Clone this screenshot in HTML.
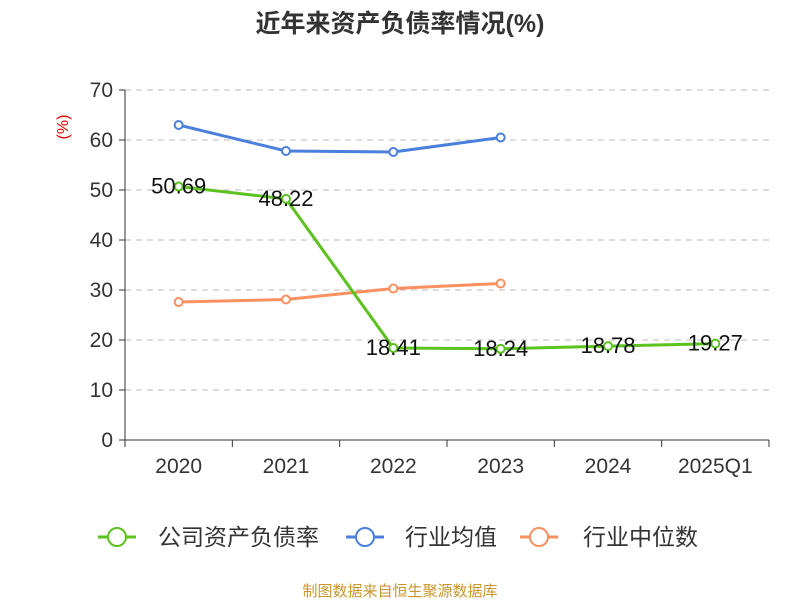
<!DOCTYPE html>
<html><head><meta charset="utf-8"><style>
body{margin:0;background:#fff;font-family:"Liberation Sans","Noto Sans CJK SC",sans-serif;}
</style></head><body>
<svg width="800" height="600" font-family="Liberation Sans, Noto Sans CJK SC, sans-serif">
<text x="400" y="32" text-anchor="middle" font-size="25" font-weight="bold" fill="#333">近年来资产负债率情况(%)</text>
<text transform="translate(68,127) rotate(-90)" text-anchor="middle" font-size="16" fill="#e00000">(%)</text>
<g id="grid"></g><g id="axes"></g><g id="series"></g>
<g>
<g><line x1="98" y1="537" x2="136" y2="537" stroke="#5bc21e" stroke-width="3"/><circle cx="117" cy="537" r="9" fill="#fff" stroke="#5bc21e" stroke-width="2"/><text x="158" y="545" font-size="23" fill="#333">公司资产负债率</text></g>
<g><line x1="346" y1="537" x2="384" y2="537" stroke="#4a7fde" stroke-width="3"/><circle cx="365" cy="537" r="9" fill="#fff" stroke="#4a7fde" stroke-width="2"/><text x="405" y="545" font-size="23" fill="#333">行业均值</text></g>
<g><line x1="520" y1="537" x2="558" y2="537" stroke="#fa9060" stroke-width="3"/><circle cx="539" cy="537" r="9" fill="#fff" stroke="#fa9060" stroke-width="2"/><text x="583" y="545" font-size="23" fill="#333">行业中位数</text></g>
</g>
<text x="400" y="596" text-anchor="middle" font-size="15" fill="#c8962a">制图数据来自恒生聚源数据库</text>
</svg>
<script>
const categories=["2020","2021","2022","2023","2024","2025Q1"];
const companyValues=[50.69,48.22,18.41,18.24,18.78,19.27];
const avgValues=[63.0,57.8,57.6,60.5];
const medianValues=[27.6,28.1,30.3,31.3];
const yTicks=[0,10,20,30,40,50,60,70];
const NS="http://www.w3.org/2000/svg";
const L=125,R=769,T=90,B=440,yMax=70;
const bw=(R-L)/categories.length;
const xS=i=>L+bw*(i+0.5);
const yS=v=>B-(v/yMax)*(B-T);
function mk(tag,attrs,parent){const e=document.createElementNS(NS,tag);for(const k in attrs)e.setAttribute(k,attrs[k]);parent.appendChild(e);return e;}
const grid=document.getElementById('grid'),axes=document.getElementById('axes'),ser=document.getElementById('series');
yTicks.forEach(t=>{
 const y=yS(t);
 if(t>0){const g=mk('line',{x1:L,x2:R,y1:y,y2:y,stroke:'#bbb','stroke-dasharray':'6,5'},grid);
 
 }
 mk('line',{x1:L-6,x2:L,y1:y,y2:y,stroke:'#333'},axes);
 const tx=mk('text',{x:L-12,y:y+7,'text-anchor':'end','font-size':21,fill:'#333'},axes);tx.textContent=t;
 
 
});
mk('line',{x1:L,x2:L,y1:T,y2:B,stroke:'#333'},axes);
mk('line',{x1:L,x2:R,y1:B,y2:B,stroke:'#333'},axes);
for(let i=0;i<=categories.length;i++)mk('line',{x1:L+bw*i,x2:L+bw*i,y1:B,y2:B+7,stroke:'#333'},axes);
categories.forEach((c,i)=>{const tx=mk('text',{x:xS(i),y:B+33,'text-anchor':'middle','font-size':21,fill:'#333'},axes);tx.textContent=c;
 
 });
function series(vals,color,name,labels){
 const g=mk('g',{},ser);
 
 
 mk('polyline',{points:vals.map((v,i)=>xS(i)+','+yS(v)).join(' '),fill:'none',stroke:color,'stroke-width':3},g);
 vals.forEach((v,i)=>{const c=mk('circle',{cx:xS(i),cy:yS(v),r:4,fill:'#fff',stroke:color,'stroke-width':2},g);
  
  
  if(labels){const t=mk('text',{x:xS(i),y:yS(v)+7,'text-anchor':'middle','font-size':22,fill:'#111'},g);t.textContent=v.toFixed(2);
   
   }
 });
}
series(avgValues,'#4a7fde','industry-avg-line',false);
series(medianValues,'#fa9060','industry-median-line',false);
series(companyValues,'#5bc21e','company-line',true);
</script>
</body></html>
